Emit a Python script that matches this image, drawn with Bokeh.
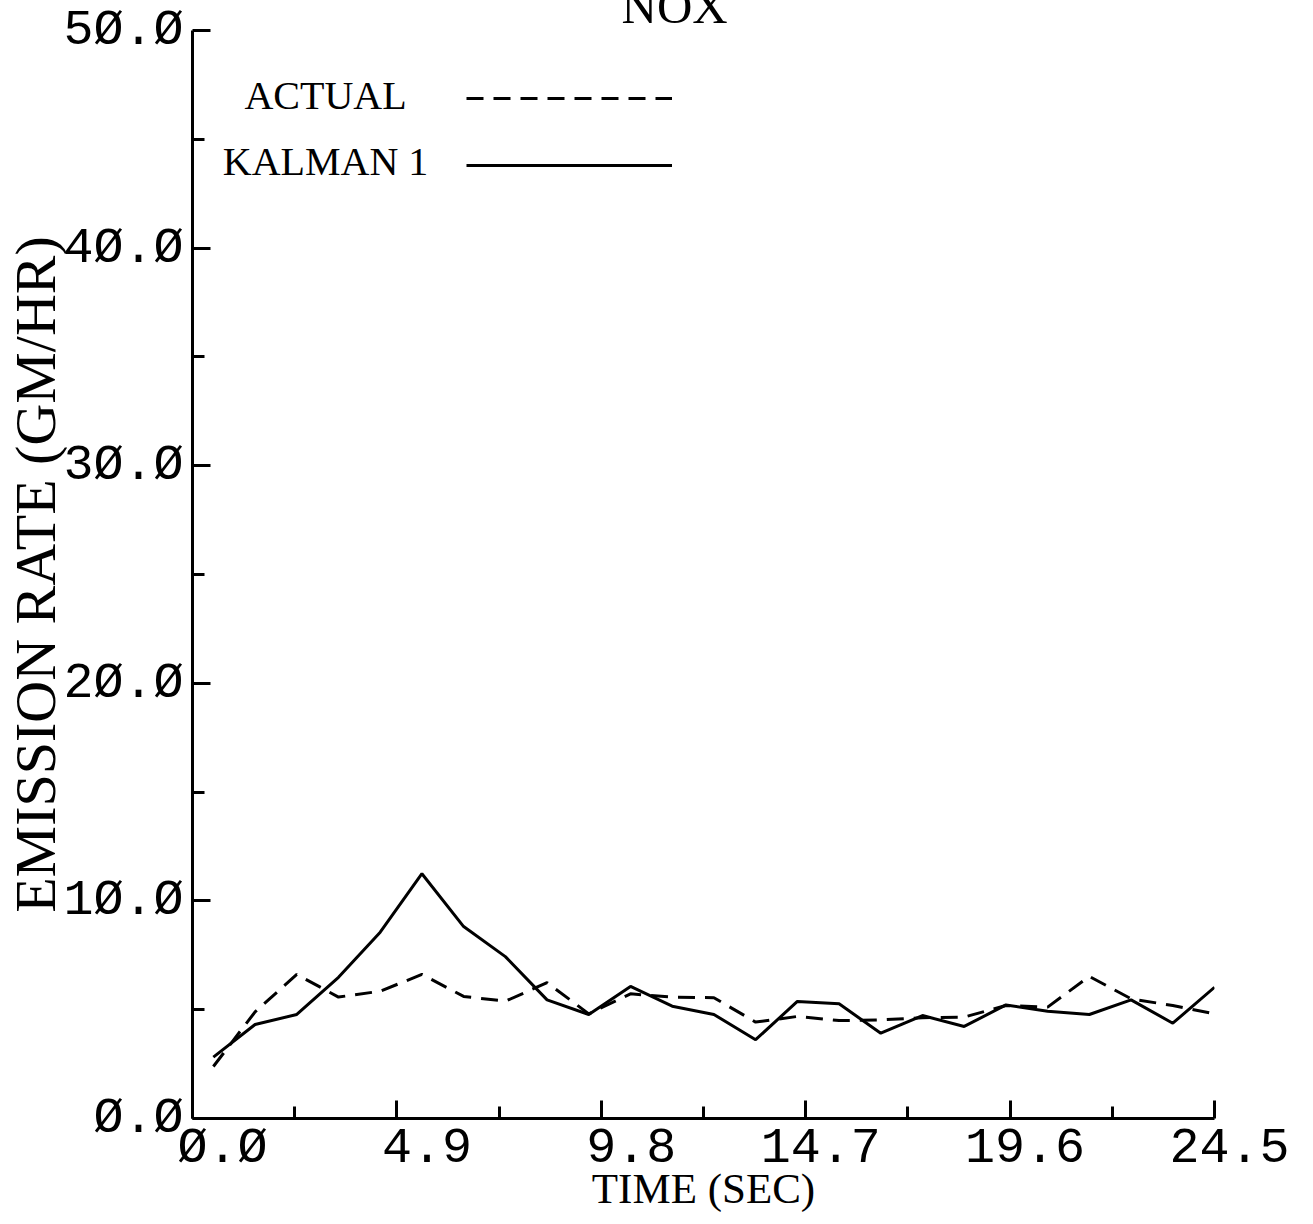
from bokeh.plotting import figure
from bokeh.models import FixedTicker, Legend, LegendItem, Label, Title
from bokeh.embed import file_html
from bokeh.resources import INLINE

# ---- data ----
time_sec = [0.5, 1.5, 2.5, 3.5, 4.5, 5.5, 6.5, 7.5, 8.5, 9.5, 10.5, 11.5, 12.5,
            13.5, 14.5, 15.5, 16.5, 17.5, 18.5, 19.5, 20.5, 21.5, 22.5, 23.5, 24.5]
actual = [2.39, 4.90, 6.62, 5.58, 5.85, 6.62, 5.61, 5.39, 6.24, 4.81, 5.73, 5.58, 5.55,
          4.43, 4.69, 4.50, 4.53, 4.63, 4.66, 5.19, 5.12, 6.53, 5.50, 5.19, 4.81]
kalman1 = [2.82, 4.32, 4.78, 6.49, 8.56, 11.25, 8.82, 7.44, 5.45, 4.78, 6.07, 5.16, 4.78,
           3.62, 5.38, 5.27, 3.92, 4.73, 4.23, 5.22, 4.93, 4.78, 5.45, 4.38, 6.03]

x_ticks = [0.0, 4.9, 9.8, 14.7, 19.6, 24.5]
x_minor = [2.45, 7.35, 12.25, 17.15, 22.05]
x_tick_labels = ["Ø.Ø", "4.9", "9.8", "14.7", "19.6", "24.5"]
y_ticks = [0, 10, 20, 30, 40, 50]
y_minor = [5, 15, 25, 35, 45]
y_tick_labels = ["Ø.Ø", "1Ø.Ø", "2Ø.Ø", "3Ø.Ø", "4Ø.Ø", "5Ø.Ø"]
series_names = ["ACTUAL", "KALMAN 1"]

MONO = "Liberation Mono"
SERIF = "Liberation Serif"
NBSP = "\u00a0"

FRAME_H = 1088
BL, BR, BT, BB = 185, 86, 54, 100
W, H = 1300, BT + FRAME_H + BB

# the original page is cropped so that the title's top is cut off: shift the
# whole canvas up so the plot frame still starts 30px from the top of the page
p = figure(width=W, height=H, x_range=(0, 24.5), y_range=(0, 50),
           output_backend="svg", toolbar_location=None,
           min_border_left=BL, min_border_right=BR, min_border_top=BT, min_border_bottom=BB,
           margin=(30 - BT, 0, 0, 0))
p.grid.visible = False
p.outline_line_color = None
p.background_fill_color = "white"
p.border_fill_color = "white"

p.title = Title(text="NOX", align="left", offset=429, standoff=-6,
                text_font=SERIF, text_font_size="49px", text_font_style="normal",
                text_color="black")

# x axis: labels sit to the right of their ticks in the original, so each one is
# padded on the left with fixed-width non-breaking spaces (monospaced font)
xa = p.xaxis[0]
xa.ticker = FixedTicker(ticks=x_ticks, minor_ticks=x_minor)
xa.major_label_overrides = {t: NBSP * (5 - len(s)) + s for t, s in zip(x_ticks, x_tick_labels)}
xa.major_label_text_font = MONO
xa.major_label_text_font_size = "50px"
xa.major_label_text_color = "black"
xa.major_label_standoff = 1
xa.axis_line_width = 3
xa.major_tick_line_width = 3
xa.minor_tick_line_width = 3
xa.major_tick_in = 18
xa.major_tick_out = 0
xa.minor_tick_in = 12
xa.minor_tick_out = 0
xa.axis_label = "TIME (SEC)"
xa.axis_label_text_font = SERIF
xa.axis_label_text_font_size = "43px"
xa.axis_label_text_font_style = "normal"
xa.axis_label_text_color = "black"
xa.axis_label_standoff = -15

# y axis
ya = p.yaxis[0]
ya.ticker = FixedTicker(ticks=y_ticks, minor_ticks=y_minor)
ya.major_label_overrides = dict(zip(y_ticks, y_tick_labels))
ya.major_label_text_font = MONO
ya.major_label_text_font_size = "50px"
ya.major_label_text_color = "black"
ya.major_label_standoff = 9
ya.axis_line_width = 3
ya.major_tick_line_width = 3
ya.minor_tick_line_width = 3
ya.major_tick_in = 18
ya.major_tick_out = 0
ya.minor_tick_in = 12
ya.minor_tick_out = 0
ya.axis_label = "EMISSION RATE (GM/HR)"
ya.axis_label_text_font = SERIF
ya.axis_label_text_font_size = "58px"
ya.axis_label_text_font_style = "normal"
ya.axis_label_text_color = "black"
ya.axis_label_standoff = -8

# data lines
r_act = p.line(time_sec, actual, line_color="black", line_width=3, line_dash="17 10")
r_kal = p.line(time_sec, kalman1, line_color="black", line_width=3)

# legend sample lines (names are written to their left, as in the original)
legend = Legend(items=[LegendItem(label=" ", renderers=[r_act]),
                       LegendItem(label=" ", renderers=[r_kal])],
                location=(274, FRAME_H - 158), orientation="vertical",
                glyph_width=206, glyph_height=46, label_standoff=0,
                label_text_font=SERIF, label_text_font_size="40px",
                spacing=21, padding=0, margin=0,
                background_fill_alpha=0, border_line_color=None)
p.add_layout(legend)

for name, ly in zip(series_names, [47.0, 44.0]):
    p.add_layout(Label(x=3.19, y=ly, text=name, text_align="center", text_baseline="middle",
                       text_font=SERIF, text_font_size="40px", text_color="black"))

open("out.html", "w").write(file_html(p, INLINE))
